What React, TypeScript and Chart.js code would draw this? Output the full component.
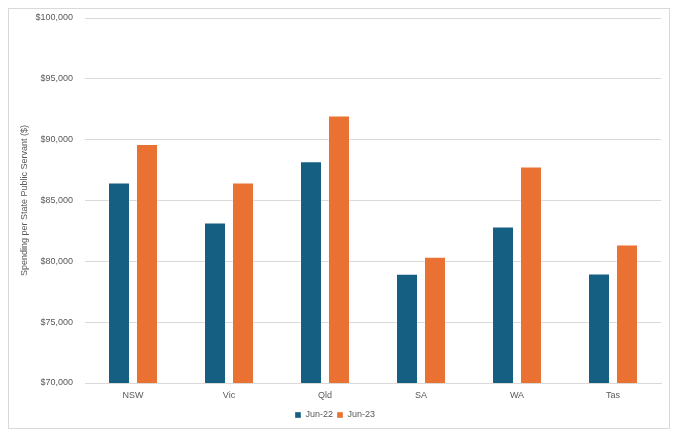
import React, { useEffect, useRef } from "react";
import { Chart, registerables } from "chart.js";

Chart.register(...registerables);

const categories = ["NSW", "Vic", "Qld", "SA", "WA", "Tas"];
const seriesNames = ["Jun-22", "Jun-23"];
const jun22 = [86480, 83200, 88220, 78970, 82870, 79000];
const jun23 = [89650, 86480, 91980, 80370, 87790, 81380];
const yTickMin = 70000;
const yTickMax = 100000;
const yTickStep = 5000;
const yTitle = "Spending per State Public Servant ($)";

const FONT = "'Liberation Sans', Arial, sans-serif";
const GRAY = "#595959";

export default function App() {
  const ref = useRef<HTMLCanvasElement | null>(null);
  useEffect(() => {
    if (!ref.current) return;
    const chart = new Chart(ref.current, {
      type: "bar",
      data: {
        labels: categories,
        datasets: [
          {
            label: seriesNames[0],
            data: jun22,
            backgroundColor: "#156082",
            borderColor: "rgba(255,255,255,0.35)",
            borderWidth: 1,
            categoryPercentage: 0.583,
            barPercentage: 0.786,
          },
          {
            label: seriesNames[1],
            data: jun23,
            backgroundColor: "#E97132",
            borderColor: "rgba(255,255,255,0.35)",
            borderWidth: 1,
            categoryPercentage: 0.583,
            barPercentage: 0.786,
          },
        ],
      },
      options: {
        responsive: false,
        animation: false,
        devicePixelRatio: 1,
        layout: { padding: { top: 9, right: 8, left: 0, bottom: -1.5 } },
        plugins: {
          tooltip: { enabled: false },
          legend: {
            position: "bottom",
            labels: {
              boxWidth: 6,
              boxHeight: 6,
              padding: 4,
              color: GRAY,
              font: { family: FONT, size: 9 },
            },
          },
        },
        scales: {
          x: {
            grid: { display: false, drawTicks: false },
            border: { display: true, color: "#d9d9d9" },
            ticks: { color: GRAY, font: { family: FONT, size: 9 }, padding: 7 },
            afterFit: (s: any) => {
              s.height = 23.5;
            },
          },
          y: {
            min: yTickMin,
            max: yTickMax,
            grid: { color: "#d9d9d9", drawTicks: false },
            border: { display: false },
            ticks: {
              stepSize: yTickStep,
              color: GRAY,
              font: { family: FONT, size: 9 },
              padding: 12,
              callback: (v: any) => "$" + Number(v).toLocaleString("en-US"),
            },
            title: {
              display: true,
              text: yTitle,
              color: GRAY,
              font: { family: FONT, size: 9 },
              padding: { top: 10.6, bottom: 0 },
            },
            afterFit: (s: any) => {
              s.width = 76;
              s.paddingTop = 0;
            },
          },
        },
      },
    });
    return () => chart.destroy();
  }, []);
  return (
    <div style={{ border: "1px solid #d9d9d9", width: 660, height: 419 }}>
      <canvas ref={ref} width={660} height={419} style={{ display: "block" }} />
    </div>
  );
}
